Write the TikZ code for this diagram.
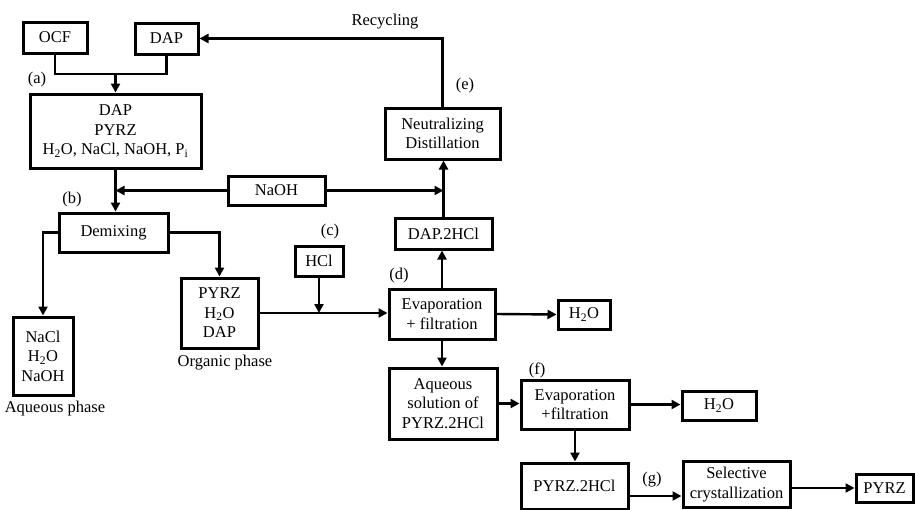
\documentclass[tikz,border=0pt]{standalone}
\usepackage{fontspec}
\setmainfont{Liberation Serif}
\usetikzlibrary{arrows.meta}
\begin{document}
\begin{tikzpicture}[x=1pt,y=-1pt,
  every node/.style={font=\fontsize{16.5}{19.5}\selectfont},
  box/.style={draw, line width=3pt, inner sep=0pt, align=center},
  conn/.style={line width=2.4pt},
  arr/.style={conn, -{Triangle[length=9pt,width=9pt]}},
  lbl/.style={inner sep=0pt}]
\useasboundingbox (0,0) rectangle (915,509);
% boxes
\node[box, minimum width=64, minimum height=31] (ocf) at (55,37.5) {OCF};
\node[box, minimum width=63, minimum height=31] (dap1) at (166.5,38.5) {DAP};
\node[box, minimum width=171, minimum height=74] (big) at (115.5,131) {DAP\\PYRZ\\H\textsubscript{2}O, NaCl, NaOH, P\textsubscript{i}};
\node[box, minimum width=97, minimum height=29] (naoh) at (276.5,190.5) {NaOH};
\node[box, minimum width=115, minimum height=51] (neut) at (442.5,133.5) {Neutralizing\\Distillation};
\node[box, minimum width=97, minimum height=31] (dap2) at (443.5,233.5) {DAP.2HCl};
\node[box, minimum width=109, minimum height=39] (demix) at (113.5,232.5) {Demixing};
\node[box, minimum width=60, minimum height=78] (nacl) at (43,356) {NaCl\\H\textsubscript{2}O\\NaOH};
\node[box, minimum width=77, minimum height=70] (pyrz1) at (219.5,313) {PYRZ\\H\textsubscript{2}O\\DAP};
\node[box, minimum width=48, minimum height=30] (hcl) at (319,261) {HCl};
\node[box, minimum width=106, minimum height=50] (evap1) at (442,314) {Evaporation\\+ filtration};
\node[box, minimum width=52, minimum height=29] (h2oa) at (584,314.5) {H\textsubscript{2}O};
\node[box, minimum width=108, minimum height=71] (aq) at (443,403.5) {Aqueous\\solution of\\PYRZ.2HCl};
\node[box, minimum width=108, minimum height=49] (evapf) at (575,404.5) {Evaporation\\+filtration};
\node[box, minimum width=74, minimum height=29] (h2ob) at (719,405.5) {H\textsubscript{2}O};
\node[box, minimum width=107, minimum height=46] (pyrzhcl) at (574.5,486) {PYRZ.2HCl};
\node[box, minimum width=107, minimum height=46] (sel) at (736.5,484.5) {Selective\\crystallization};
\node[box, minimum width=57, minimum height=28] (pyrzf) at (884.5,488) {PYRZ};
% labels
\node[lbl] (la) at (37,80) {(a)};
\node[lbl] (lb) at (72,200) {(b)};
\node[lbl] (lc) at (330,232) {(c)};
\node[lbl] (ld) at (399,276) {(d)};
\node[lbl] (le) at (465,86) {(e)};
\node[lbl] (lf) at (537,370) {(f)};
\node[lbl] (lg) at (652,480) {(g)};
\node[lbl] (rec) at (385,22) {Recycling};
\node[lbl] (aqp) at (55,409) {Aqueous phase};
\node[lbl] (orgp) at (225,363) {Organic phase};
% connectors
\coordinate (j1) at (115.5,74);
\draw[conn] (ocf.south) |- (j1) -| (dap1.south);
\draw[arr] (j1) -- (big.north);
\draw[arr] (big.south) -- (big.south |- demix.north);
\draw[arr] (naoh.west) -- (big.south |- naoh.west);
\draw[arr] (naoh.east) -- (dap2.north |- naoh.east);
\draw[arr] (dap2.north) -- (dap2.north |- neut.south);
\draw[arr] (neut.north) |- (dap1.east);
\draw[arr] (demix.west) -| (nacl.north);
\draw[arr] (demix.east) -| (pyrz1.north);
\draw[arr] (pyrz1.east) -- (pyrz1.east -| evap1.west);
\draw[arr] (hcl.south) -- (hcl.south |- pyrz1.east);
\draw[arr] (evap1.north) -- (evap1.north |- dap2.south);
\draw[arr] (evap1.east) -- (h2oa.west);
\draw[arr] (evap1.south) -- (evap1.south |- aq.north);
\draw[arr] (aq.east) -- (aq.east -| evapf.west);
\draw[arr] (evapf.east) -- (evapf.east -| h2ob.west);
\draw[arr] (evapf.south) -- (evapf.south |- pyrzhcl.north);
\coordinate (g1) at (628,496);
\draw[arr] (pyrzhcl.east |- g1) -- (sel.west |- g1);
\draw[arr] (sel.east |- pyrzf.west) -- (pyrzf.west);
\end{tikzpicture}
\end{document}
